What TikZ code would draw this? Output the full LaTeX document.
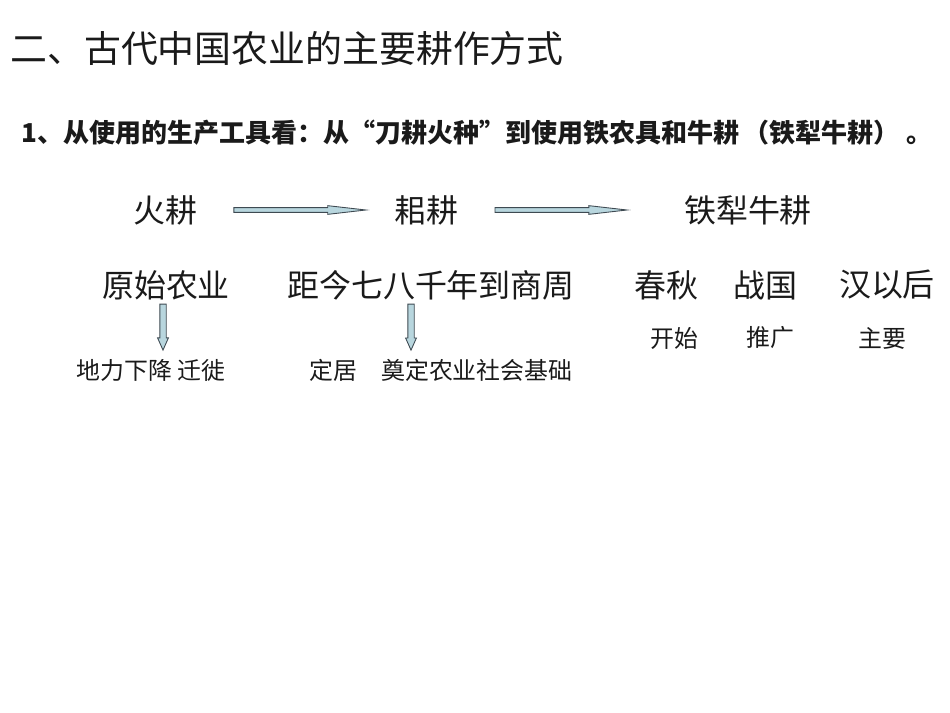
\documentclass[tikz,border=0pt]{standalone}
\usepackage{fontspec}
\setmainfont{Noto Sans CJK SC}
\usetikzlibrary{shapes.arrows}
\definecolor{arrowfill}{HTML}{B8D6DE}
\definecolor{arrowline}{HTML}{3E4A52}
\definecolor{ink}{HTML}{1A1A1A}
\begin{document}
\begin{tikzpicture}
			[x=0.02cm,y=-0.02cm,
			txt/.style={inner sep=0pt,text=ink},
			big/.style={txt,font=\fontsize{18.2}{20}\selectfont},
			small/.style={txt,font=\fontsize{13.6}{16}\selectfont},
			harrow/.style={single arrow,draw=arrowline,fill=arrowfill,line width=0.5pt,
				inner xsep=0pt,inner ysep=0.038cm,minimum height=2.64cm,
				single arrow head extend=0.04cm,single arrow tip angle=13,sloped},
			varrow/.style={single arrow,draw=arrowline,fill=arrowfill,line width=0.5pt,
				inner xsep=0pt,inner ysep=0.055cm,minimum height=0.92cm,
				single arrow head extend=0.045cm,single arrow tip angle=48,sloped}]
			\useasboundingbox (0,0) rectangle (950,713);
			\node[txt,name=title,anchor=west,font=\fontsize{21}{25}\selectfont] at (10,48) {二、古代中国农业的主要耕作方式};
			\node[txt,name=sub,anchor=west,font=\fontsize{14.8}{18}\selectfont\bfseries] at (21,133) {1、从使用的生产工具看：从“刀耕火种”到使用铁农具和牛耕\hspace{0.15em}（铁犁牛耕）\hspace{0.3em}。};
			\node[big,name=huo] at (165,210) {火耕};
			\node[big,name=si] at (426,210) {耜耕};
			\node[big,name=tieli] at (748,210) {铁犁牛耕};
			\node[big,name=yuanshi] at (166,285) {原始农业};
			\node[big,name=juli] at (431,285) {距今七八千年到商周};
			\node[big,name=chunqiu] at (666,285) {春秋};
			\node[big,name=zhanguo] at (765,285) {战国};
			\node[big,name=hanyihou] at (887,285) {汉以后};
			\node[small,name=kaishi] at (674,338) {开始};
			\node[small,name=tuiguang] at (770,338) {推广};
			\node[small,name=zhuyao] at (882,338) {主要};
			\node[small,name=dili] at (151,370) {地力下降 迁徙};
			\node[small,name=dingju] at (441,370) {定居\quad 奠定农业社会基础};
			\path(huo)--node[harrow,pos=0.47]{}(si);
			\path(si)--node[harrow,pos=0.41]{}(tieli);
			\path([xshift=-0.06cm]yuanshi.south)--node[varrow,pos=0.4]{}([xshift=-0.06cm]yuanshi.south|-dili.north);
			\path([xshift=-0.4cm]juli.south)--node[varrow,pos=0.4]{}([xshift=-0.4cm]juli.south|-dingju.north);
		\end{tikzpicture}
\end{document}
